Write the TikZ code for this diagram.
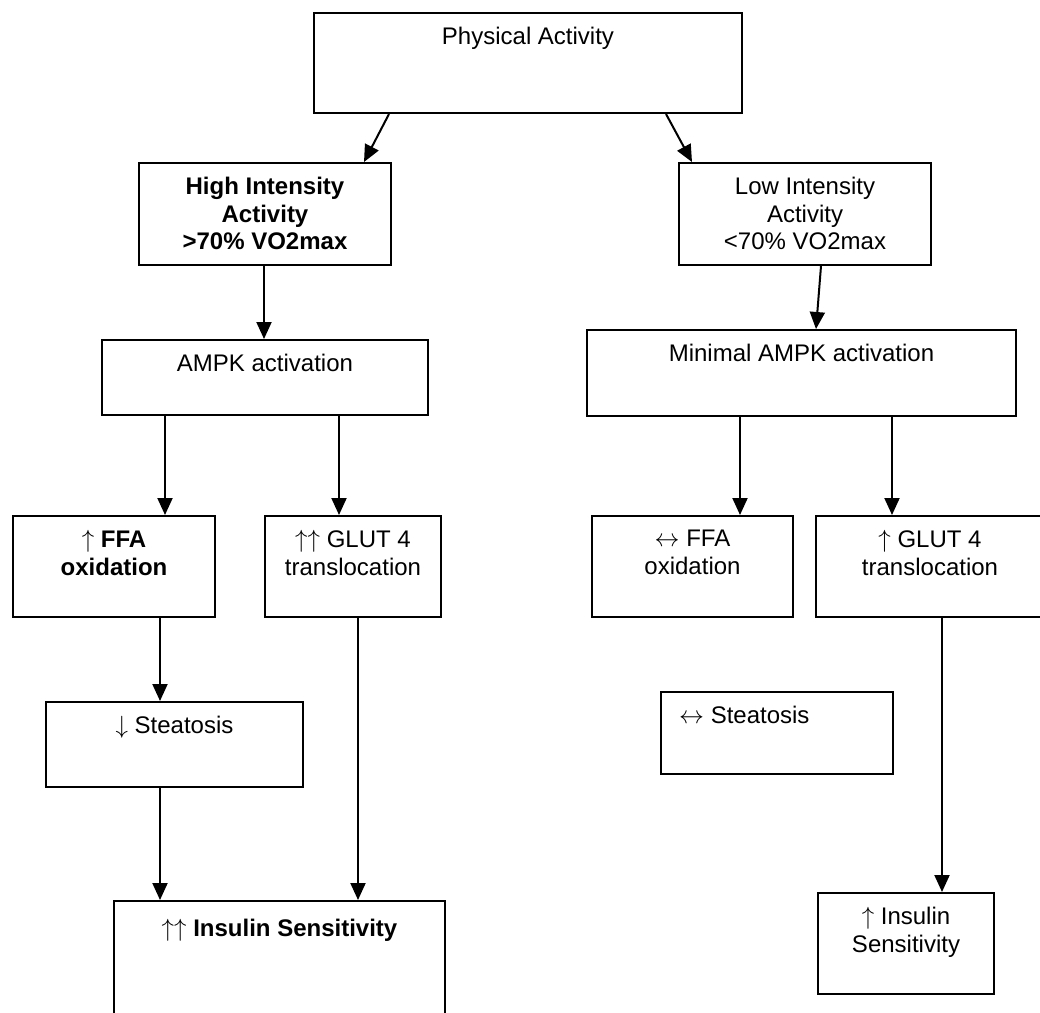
\documentclass[tikz,border=0pt]{standalone}
\usepackage{fontspec}
\setmainfont{Liberation Sans}
\usetikzlibrary{calc,arrows.meta}

\begin{document}
\begin{tikzpicture}[
            x=1pt, y=-1pt,
            font=\fontsize{24}{27.6}\selectfont,
            box/.style={draw, line width=2pt, inner sep=0pt},
            txt/.style={anchor=north, align=center, inner sep=0pt, yshift=-15pt},
            arr/.style={line width=2pt, -{Triangle[length=17pt,width=15pt]}}
        ]
            \clip (0,0) rectangle (1040,1012);
            \node (phys)  [box, minimum width=428pt, minimum height=100pt, label={[txt]north:Physical Activity}] at (528,63) {};
            \node (hi)    [box, minimum width=252pt, minimum height=102pt, label={[txt]north:\textbf{High Intensity}\\\textbf{Activity}\\\textbf{>70\% VO2max}}] at (265,214) {};
            \node (lo)    [box, minimum width=252pt, minimum height=102pt, label={[txt]north:Low Intensity\\Activity\\<70\% VO2max}] at (805,214) {};
            \node (ampk)  [box, minimum width=326pt, minimum height=75pt, label={[txt]north:AMPK activation}] at (265,377.5) {};
            \node (mampk) [box, minimum width=429pt, minimum height=86pt, label={[txt]north:Minimal AMPK activation}] at (801.5,373) {};
            \node (ffa)   [box, minimum width=202pt, minimum height=101pt, label={[txt]north:$\uparrow$ \textbf{FFA}\\\textbf{oxidation}}] at (114,566.5) {};
            \node (glut)  [box, minimum width=176pt, minimum height=101pt, label={[txt]north:$\uparrow\uparrow$ GLUT 4\\translocation}] at (353,566.5) {};
            \node (ffar)  [box, minimum width=201pt, minimum height=101pt, label={[txt]north:$\leftrightarrow$ FFA\\oxidation}] at (692.5,566.5) {};
            \node (glutr) [box, minimum width=228pt, minimum height=101pt, label={[txt]north:$\uparrow$ GLUT 4\\translocation}] at (930,566.5) {};
            \node (st)    [box, minimum width=257pt, minimum height=85pt, label={[txt]north:$\downarrow$ Steatosis}] at (174.5,744.5) {};
            \node (str)   [box, minimum width=232pt, minimum height=82pt, label={[txt, anchor=north west, xshift=19pt]north west:$\leftrightarrow$ Steatosis}] at (777,733) {};
            \node (ins)   [box, minimum width=331pt, minimum height=113pt, label={[txt, yshift=-4pt]north:$\uparrow\uparrow$ \textbf{Insulin Sensitivity}}] at (279.5,957.5) {};
            \node (insr)  [box, minimum width=176pt, minimum height=101pt, label={[txt]north:$\uparrow$ Insulin\\Sensitivity}] at (906,943.5) {};
            \draw[arr] ($(phys.south west)+(76,0)$) -- ($(hi.north west)+(226,0)$);
            \draw[arr] ($(phys.south west)+(353,0)$) -- ($(lo.north west)+(14,0)$);
            \draw[arr] ($(hi.south west)+(126,0)$) -- ($(ampk.north west)+(163,0)$);
            \draw[arr] ($(lo.south west)+(143,0)$) -- ($(mampk.north west)+(230,0)$);
            \draw[arr] ($(ampk.south west)+(64,0)$) -- ($(ffa.north west)+(153,0)$);
            \draw[arr] ($(ampk.south west)+(238,0)$) -- ($(glut.north west)+(75,0)$);
            \draw[arr] ($(mampk.south west)+(154,0)$) -- ($(ffar.north west)+(149,0)$);
            \draw[arr] ($(mampk.south west)+(306,0)$) -- ($(glutr.north west)+(77,0)$);
            \draw[arr] ($(ffa.south west)+(148,0)$) -- ($(st.north west)+(115,0)$);
            \draw[arr] ($(st.south west)+(115,0)$) -- ($(ins.north west)+(47,0)$);
            \draw[arr] ($(glut.south west)+(94,0)$) -- ($(ins.north west)+(245,0)$);
            \draw[arr] ($(glutr.south west)+(127,0)$) -- ($(insr.north west)+(125,0)$);
        \end{tikzpicture}
\end{document}
